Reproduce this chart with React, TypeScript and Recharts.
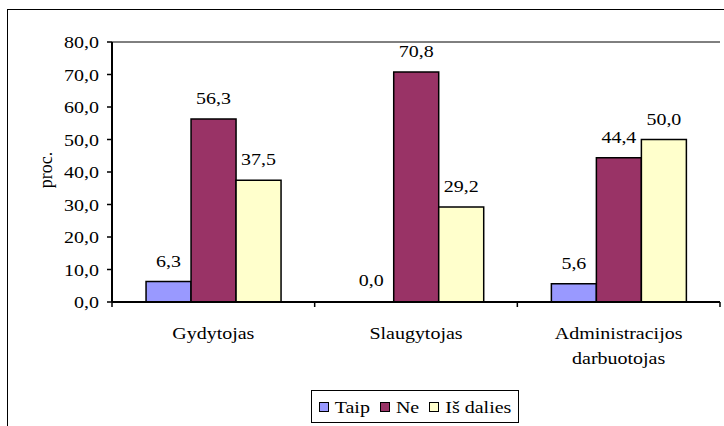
import React from 'react';
import {
  BarChart,
  Bar,
  Cell,
  XAxis,
  YAxis,
  CartesianGrid,
  LabelList,
} from 'recharts';

// Staff groups on the x axis
const categories: string[] = ['Gydytojas', 'Slaugytojas', 'Administracijos darbuotojas'];

// Answer shares, percent
const taip: number[] = [6.3, 0.0, 5.6];
const ne: number[] = [56.3, 70.8, 44.4];
const isDalies: number[] = [37.5, 29.2, 50.0];

const yTicks: number[] = [0, 10, 20, 30, 40, 50, 60, 70, 80];

const series = [
  { key: 'taip', name: 'Taip', color: '#9999FF', values: taip },
  { key: 'ne', name: 'Ne', color: '#993366', values: ne },
  { key: 'isDalies', name: 'Iš dalies', color: '#FFFFCC', values: isDalies },
];

const data = categories.map((name, i) => ({
  name,
  taip: taip[i],
  ne: ne[i],
  isDalies: isDalies[i],
}));

const FONT = 'Liberation Serif';
const FS = 20;
const SQUASH = 0.82; // glyphs are a bit flatter than they are wide

const fmt = (v: number) => Number(v).toFixed(1).replace('.', ',');

// Serif text with its baseline at (x, y), squashed vertically
const Txt = ({ x, y, anchor = 'middle', children }: any) => (
  <text
    transform={`translate(${x},${y}) scale(1,${SQUASH})`}
    textAnchor={anchor}
    fill="#000"
    fontSize={FS}
    style={{ fontFamily: FONT }}
  >
    {children}
  </text>
);

// Category label split into lines, with tick marks on the band edges
const CategoryTick = (props: any) => {
  const { x, y, payload, index, width, visibleTicksCount } = props;
  const count = visibleTicksCount || categories.length;
  const bw = (width || 608) / count;
  const lines = String(payload.value).split(' ');
  return (
    <g>
      <line x1={x - bw / 2} y1={y} x2={x - bw / 2} y2={y + 5} stroke="#000" strokeWidth={1.5} />
      {index === count - 1 && (
        <line x1={x + bw / 2} y1={y} x2={x + bw / 2} y2={y + 5} stroke="#000" strokeWidth={1.5} />
      )}
      {lines.map((ln, i) => (
        <Txt key={i} x={x} y={y + 37 + i * 25}>
          {ln}
        </Txt>
      ))}
    </g>
  );
};

const ValueTick = (props: any) => {
  const { x, y, payload } = props;
  return (
    <Txt x={x} y={y + 6} anchor="end">
      {fmt(payload.value)}
    </Txt>
  );
};

// Value above each bar
const ValueLabel = (props: any) => {
  const { x, y, width, value } = props;
  return (
    <Txt x={Number(x) + Number(width) / 2} y={Number(y) - 15}>
      {fmt(value)}
    </Txt>
  );
};

const App: React.FC = () => {
  return (
    <div
      style={{
        position: 'absolute',
        left: 0,
        top: 0,
        width: 724,
        height: 426,
        overflow: 'hidden',
        background: '#fff',
        fontFamily: FONT,
      }}
    >
      {/* chart frame, runs past the right and bottom edge */}
      <div
        style={{
          position: 'absolute',
          left: 7,
          top: 9,
          width: 730,
          height: 430,
          border: '1.5px solid #000',
        }}
      />
      <div
        style={{
          position: 'absolute',
          left: 46,
          top: 170,
          transform: 'translate(-50%, -50%) rotate(-90deg)',
          fontSize: 18,
          color: '#000',
          whiteSpace: 'nowrap',
        }}
      >
        proc.
      </div>
      <div style={{ position: 'absolute', left: 0, top: 0 }}>
        <BarChart
          width={724}
          height={426}
          data={data}
          margin={{ top: 42, right: 4, bottom: 64, left: 50 }}
          barCategoryGap="16.8%"
          barGap={0}
        >
          <CartesianGrid vertical={false} stroke="#000" strokeWidth={1} />
          {series.map((s) => (
            <Bar
              key={s.key}
              yAxisId="left"
              dataKey={s.key}
              name={s.name}
              fill={s.color}
              stroke="#000"
              strokeWidth={1.5}
              minPointSize={1}
              isAnimationActive={false}
            >
              {/* zero bars keep their label but draw no box */}
              {s.values.map((v, i) => (
                <Cell
                  key={i}
                  fill={v === 0 ? 'none' : s.color}
                  stroke={v === 0 ? 'none' : '#000'}
                />
              ))}
              <LabelList dataKey={s.key} content={<ValueLabel />} />
            </Bar>
          ))}
          <XAxis
            dataKey="name"
            height={60}
            axisLine={{ stroke: '#000', strokeWidth: 2 }}
            tickLine={false}
            tickSize={0}
            tickMargin={0}
            tick={<CategoryTick />}
            interval={0}
          />
          <YAxis
            yAxisId="left"
            width={62}
            domain={[0, 80]}
            ticks={yTicks}
            axisLine={{ stroke: '#000', strokeWidth: 2 }}
            tickLine={{ stroke: '#000', strokeWidth: 1.5 }}
            tickSize={5}
            tickMargin={8}
            tick={<ValueTick />}
            interval={0}
          />
          <YAxis
            yAxisId="right"
            orientation="right"
            width={0}
            domain={[0, 80]}
            tick={false}
            tickLine={false}
            axisLine={{ stroke: '#000', strokeWidth: 1.5 }}
          />
        </BarChart>
      </div>
      {/* legend */}
      <div
        style={{
          position: 'absolute',
          left: 311,
          top: 390,
          width: 206,
          height: 31,
          border: '1px solid #000',
          display: 'flex',
          alignItems: 'center',
          justifyContent: 'center',
          fontSize: FS,
          color: '#000',
        }}
      >
        {series.map((s, i) => (
          <span
            key={s.key}
            style={{
              display: 'flex',
              alignItems: 'center',
              marginRight: i < series.length - 1 ? 10 : 0,
            }}
          >
            <span
              style={{
                display: 'inline-block',
                width: 8,
                height: 8,
                background: s.color,
                border: '1px solid #000',
                marginRight: 6,
              }}
            />
            <span style={{ display: 'inline-block', transform: `scaleY(${SQUASH})`, lineHeight: 1 }}>
              {s.name}
            </span>
          </span>
        ))}
      </div>
    </div>
  );
};

export default App;
